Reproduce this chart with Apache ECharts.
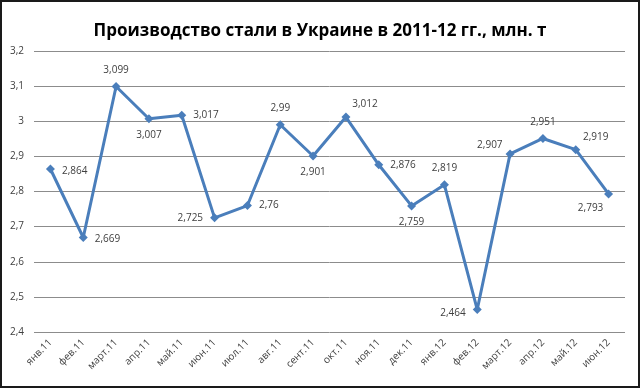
<!DOCTYPE html>
<html><head><meta charset="utf-8">
<script src="https://cdn.jsdelivr.net/npm/echarts@6/dist/echarts.min.js"></script>
<style>html,body{margin:0;padding:0;background:#fff}#c{width:640px;height:388px}</style>
</head><body><div id="c"></div>
<script>
const titleText = 'Производство стали в Украине в 2011-12 гг., млн. т';
const categories = ['янв.11','фев.11','март.11','апр.11','май.11','июн.11','июл.11','авг.11','сент.11','окт.11','ноя.11','дек.11','янв.12','фев.12','март.12','апр.12','май.12','июн.12'];
const values = [2.864,2.669,3.099,3.007,3.017,2.725,2.76,2.99,2.901,3.012,2.876,2.759,2.819,2.464,2.907,2.951,2.919,2.793];
const yMin = 2.4, yMax = 3.2, yStep = 0.1;

// label placement per point (layout only)
const labelPlace = [
  ['right',[0,2]],['right',[0,2]],['top',[0,0]],['bottom',[0,0]],['right',[0,0]],
  ['left',[0,0]],['right',[0,0]],['top',[0,0]],['bottom',[0,0]],['top',[19,4]],
  ['right',[0,0]],['bottom',[0,0]],['top',[0,0]],['left',[0,4]],['left',[4,-9]],
  ['top',[0,0]],['top',[20,4]],['bottom',[-18,-2]]
];
const fmt = v => String(v).replace('.', ',');

const chart = echarts.init(document.getElementById('c'));
chart.setOption({
  animation:false,
  backgroundColor:'#fff',
  title:{text:titleText,left:'center',top:18,textStyle:{fontFamily:'Open Sans',fontSize:17,fontWeight:'bold',color:'#000'}},
  grid:{left:34,right:15,top:51,bottom:56},
  xAxis:{type:'category',data:categories,boundaryGap:true,
    axisLine:{show:false},axisTick:{show:false},
    axisLabel:{rotate:45,margin:9,fontFamily:'Open Sans',fontSize:10,color:'#404040',interval:0}},
  yAxis:{type:'value',min:yMin,max:yMax,interval:yStep,
    axisLine:{show:false},axisTick:{show:false},
    splitLine:{lineStyle:{color:'#8c8c8c',width:1}},
    axisLabel:{margin:10,fontFamily:'Open Sans',fontSize:10,color:'#404040',formatter:v=>fmt(Math.round(v*10)/10)}},
  series:[{type:'line',
    data:values.map((v,i)=>({value:v,label:{position:labelPlace[i][0],offset:labelPlace[i][1]}})),
    symbol:'diamond',symbolSize:9,
    lineStyle:{color:'#4a7ebb',width:3},
    itemStyle:{color:'#4a7ebb'},
    label:{show:true,distance:7,fontFamily:'Open Sans',fontSize:10,color:'#404040',formatter:p=>fmt(p.value)}
  }],
  graphic:[{type:'rect',shape:{x:1,y:1,width:638,height:386},style:{fill:'none',stroke:'#1a1a1a',lineWidth:2},z:100}]
});
</script></body></html>
